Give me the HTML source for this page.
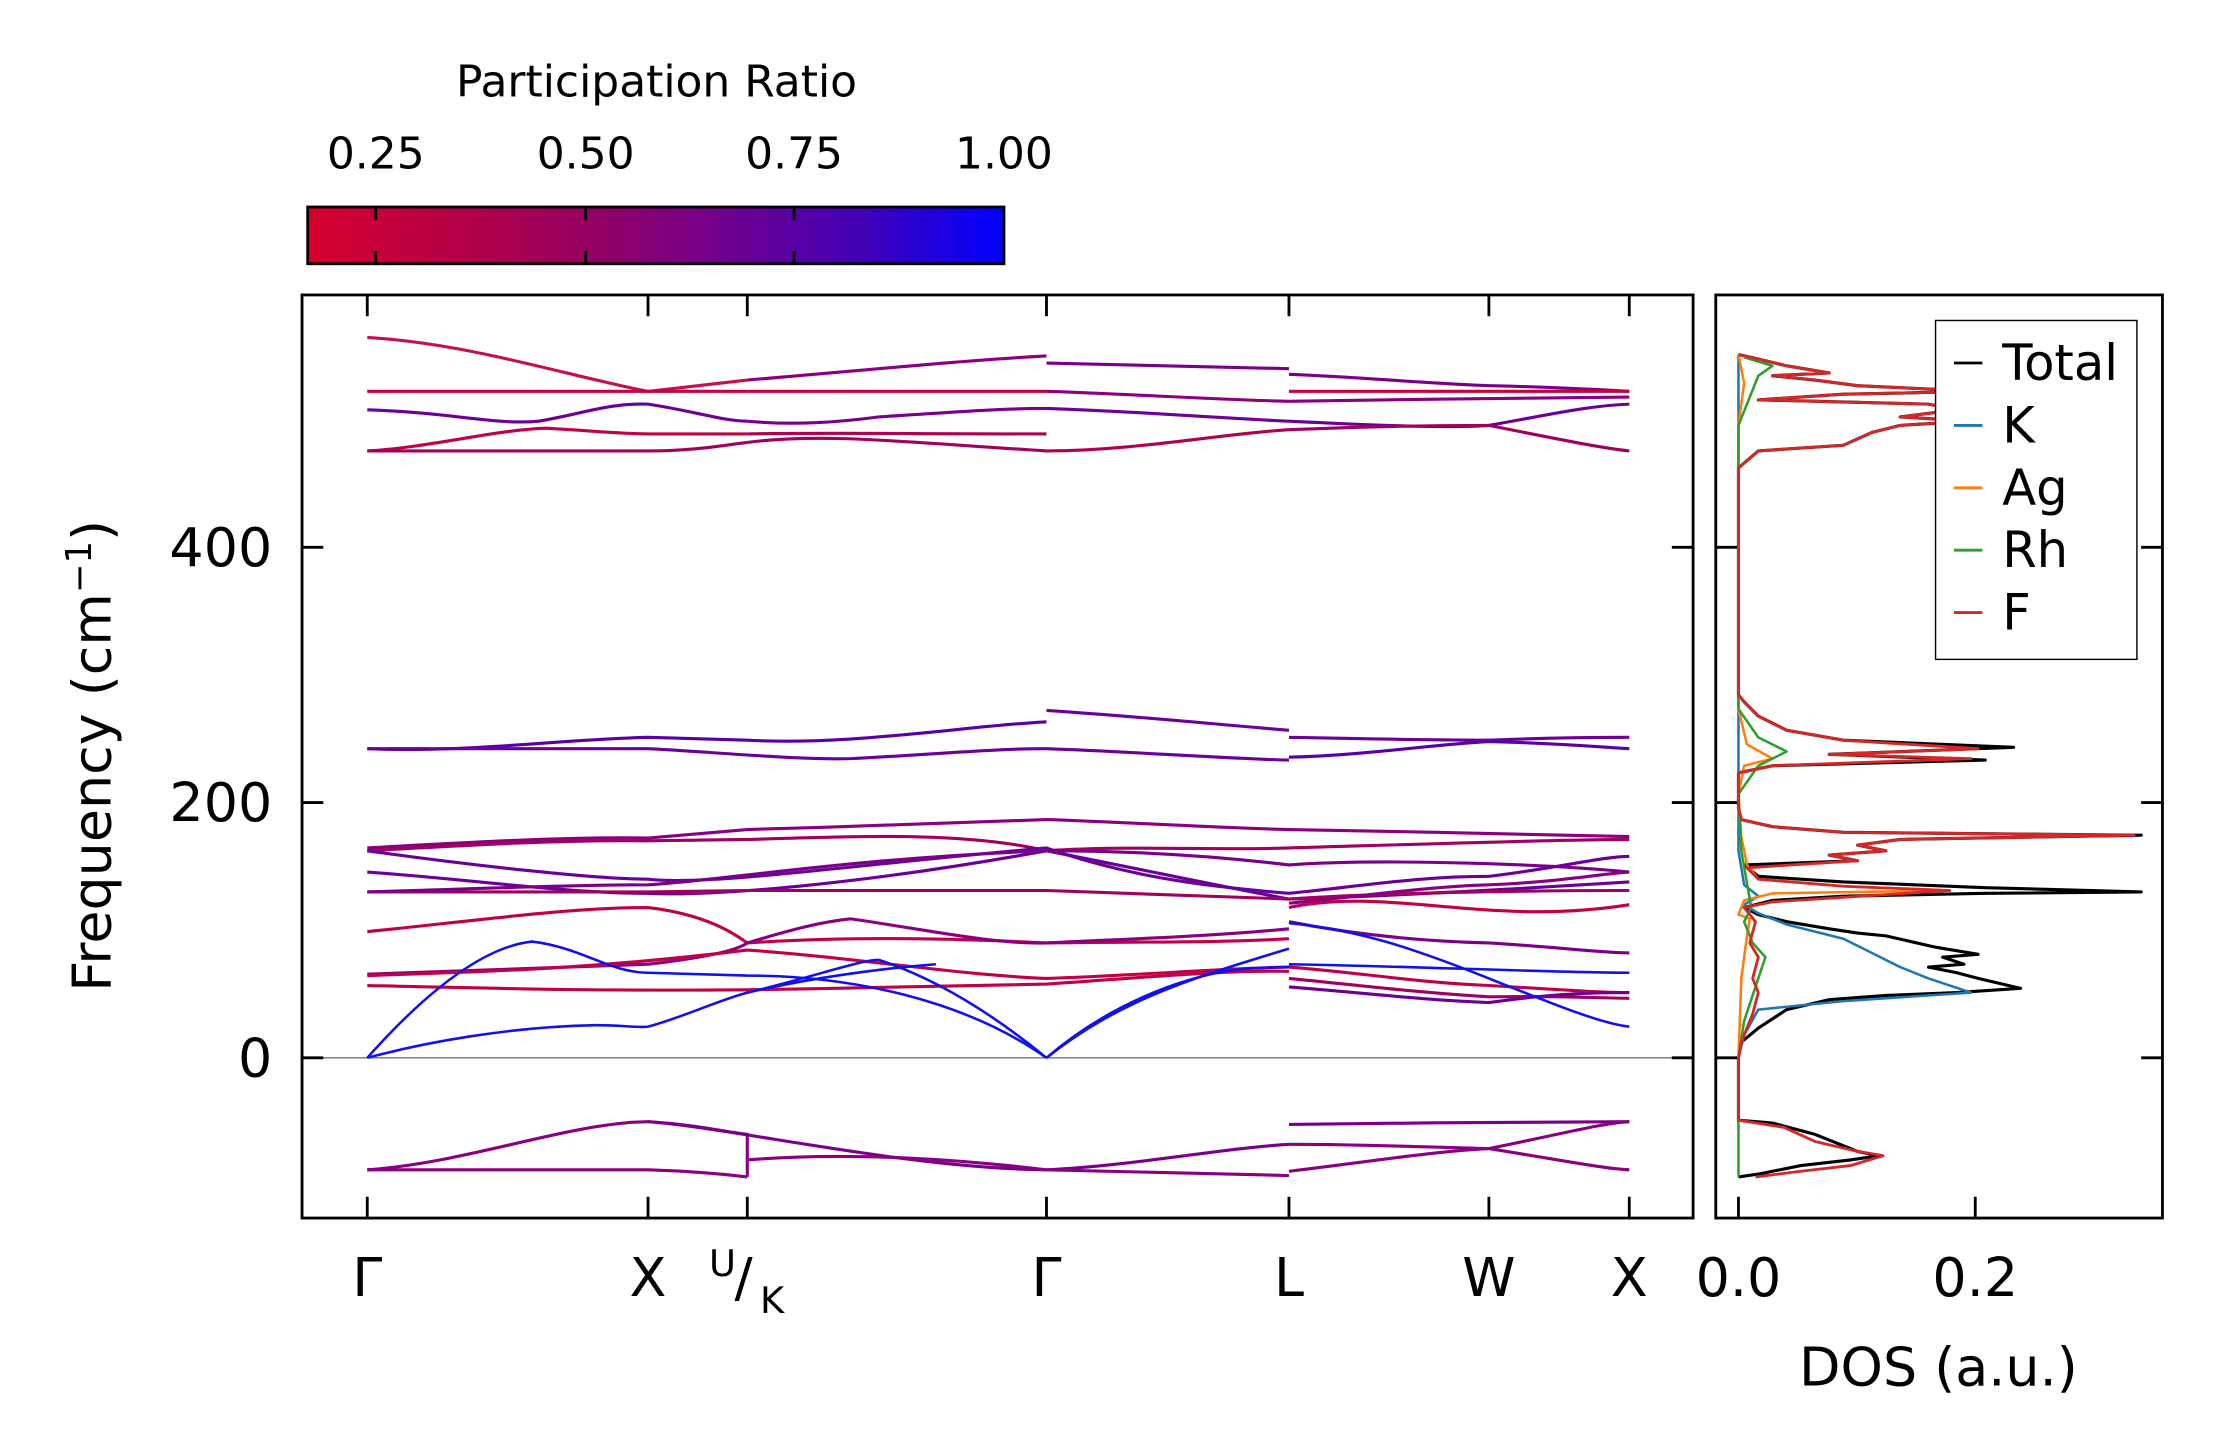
<!DOCTYPE html>
<html><head><meta charset="utf-8"><style>html,body{margin:0;padding:0;background:#fff}svg{display:block}</style></head>
<body>
<svg width="2222" height="1455" viewBox="0 0 1567 1026.1" xmlns="http://www.w3.org/2000/svg" font-family="'DejaVu Sans','Liberation Sans',sans-serif">
<defs>
<linearGradient id="cb" x1="0" x2="1" y1="0" y2="0">
<stop offset="0" stop-color="#d8002c"/><stop offset="0.4" stop-color="#950060"/><stop offset="0.55" stop-color="#7a0085"/><stop offset="0.8" stop-color="#4000b8"/><stop offset="1" stop-color="#0000ff"/>
</linearGradient>
<clipPath id="mc"><rect x="213" y="208" width="981" height="651"/></clipPath>
</defs>
<rect width="1570" height="1030" fill="#fff"/>
<text x="463" y="68" font-size="31" text-anchor="middle">Participation Ratio</text>
<rect x="217" y="146" width="491" height="40" fill="url(#cb)" stroke="#000" stroke-width="2"/>
<g stroke="#000" stroke-width="2"><line x1="265" y1="146" x2="265" y2="155"/><line x1="265" y1="177" x2="265" y2="186"/><line x1="413" y1="146" x2="413" y2="155"/><line x1="413" y1="177" x2="413" y2="186"/><line x1="560" y1="146" x2="560" y2="155"/><line x1="560" y1="177" x2="560" y2="186"/></g>
<g font-size="31" text-anchor="middle"><text x="265" y="119">0.25</text><text x="413" y="119">0.50</text><text x="560" y="119">0.75</text><text x="708" y="119">1.00</text></g>

<g clip-path="url(#mc)" fill="none" stroke-width="2.2">
<line x1="213" y1="746" x2="1194" y2="746" stroke="#888" stroke-width="1.2"/>
<path d="M259,238 C330,242 400,265 457,276 L527,268" stroke="#c4104c"/>
<path d="M259,276 L527,276" stroke="#c8003c"/>
<path d="M259,289 C320,291 350,300 380,297 C410,292 430,284 457,285 C490,290 510,297 527,297" stroke="#6a0098"/>
<path d="M259,318 C300,316 350,303 385,302 C420,304 440,306 457,306 L527,306" stroke="#c00048"/>
<path d="M259,318 L457,318 C490,318 510,314 527,312" stroke="#a0005e"/>
<path d="M527,268 C600,262 680,254 738,251" stroke="#8a0080"/>
<path d="M527,276 L738,276" stroke="#c8003c"/>
<path d="M527,297 C560,300 590,298 620,294 C680,290 710,288 738,288" stroke="#7a008c"/>
<path d="M527,306 C580,305 640,306 738,306" stroke="#b00050"/>
<path d="M527,312 C580,305 640,312 738,318" stroke="#a0005e"/>
<path d="M738,256 L909,260" stroke="#7a008c"/><path d="M738,276 C800,278 860,282 909,283" stroke="#8a0080"/>
<path d="M738,288 C800,290 860,295 909,297" stroke="#6a0098"/><path d="M738,318 C800,318 860,306 909,303" stroke="#b00050"/>
<path d="M909,264 C960,266 1000,270 1050,272 C1100,273 1130,275 1149,276" stroke="#7a008c"/>
<path d="M909,276 L1149,276" stroke="#c8003c"/>
<path d="M909,283 C980,282 1100,280 1149,280" stroke="#8a0080"/>
<path d="M909,297 C970,300 1020,302 1050,300 C1090,293 1120,286 1149,285" stroke="#6a0098"/>
<path d="M909,303 C980,300 1030,300 1050,300 C1100,310 1130,316 1149,318" stroke="#a0005e"/>
<path d="M259,528 C330,531 400,521 457,520 L527,522 C600,526 680,512 738,509" stroke="#5a00a8"/>
<path d="M259,528 L457,528 C500,530 560,536 600,535 C660,532 700,528 738,528" stroke="#6a0098"/>
<path d="M738,501 C800,505 860,511 909,515" stroke="#6a0098"/><path d="M738,528 C800,530 860,535 909,536" stroke="#6a0098"/>
<path d="M909,520 C960,521 1010,522 1050,522 C1100,520 1130,520 1149,520" stroke="#6a0098"/>
<path d="M909,534 C960,533 1010,525 1050,523 C1100,524 1130,527 1149,528" stroke="#5a00a8"/>
<path d="M259,598 C330,594 400,590 457,591 L527,585 C600,583 680,580 738,578 C800,580 860,584 909,585 C980,586 1100,589 1149,590" stroke="#8a0080"/>
<path d="M259,600 C330,596 400,592 457,593 L527,592 C600,590 680,586 738,600 C800,596 860,600 909,598 C980,596 1100,592 1149,592" stroke="#a0005e"/>
<path d="M259,600 C330,610 420,620 457,620 C500,625 600,610 738,598 C800,620 860,626 909,630 C960,625 1000,618 1050,618 C1100,612 1130,604 1149,604" stroke="#6a0098"/>
<path d="M259,615 C330,620 400,630 457,630 C500,632 600,625 738,600 C800,612 860,625 909,634 C980,632 1100,625 1149,622" stroke="#6a0098"/>
<path d="M259,629 C330,629 400,629 457,629 L527,628 C600,628 680,628 738,628 C800,630 860,632 909,634 C980,629 1100,628 1149,628" stroke="#a0005e"/>
<path d="M259,629 C330,627 400,624 457,624 C500,622 600,605 738,600 C800,600 860,604 909,610 C980,605 1100,610 1149,615" stroke="#7a008c"/>
<path d="M259,657 C330,650 400,640 457,640 C500,645 520,660 527,665 C600,660 680,662 738,665 C800,664 860,665 909,662" stroke="#c00048"/>
<path d="M909,637 C960,632 1010,625 1050,624 C1100,622 1130,616 1149,615" stroke="#8a0080"/>
<path d="M909,640 C980,625 1050,654 1149,638" stroke="#c00048"/>
<path d="M259,687 C330,685 400,682 457,680 C500,675 520,670 527,665 C560,655 580,650 600,648 C650,655 700,666 738,665 C800,662 860,660 909,655" stroke="#8a0080"/>
<path d="M259,688 C350,685 420,683 527,670 C600,675 680,688 738,690 C800,688 860,683 909,682" stroke="#c00048"/>
<path d="M259,695 C350,697 420,699 527,698 C600,697 680,695 738,694 C800,690 860,684 909,685" stroke="#c00048"/>
<path d="M909,650 C960,660 1010,664 1050,665 C1100,668 1130,672 1149,672" stroke="#7a008c"/>
<path d="M909,682 C960,686 1000,693 1050,695 C1100,698 1130,700 1149,700" stroke="#c00048"/>
<path d="M909,690 C960,695 1000,700 1050,703 C1100,702 1130,704 1149,704" stroke="#a0005e"/>
<path d="M909,696 C960,700 1000,705 1050,707 C1100,700 1130,700 1149,700" stroke="#6a0098"/>
<g stroke="#1010f0" stroke-width="1.8">
<path d="M259,746 C300,735 360,724 420,723 C440,723 450,725 457,724 C480,718 505,706 527,700 C570,690 610,676 620,677 C660,690 700,715 738,746"/>
<path d="M259,746 C300,700 340,668 375,664 C410,668 430,686 457,686 L527,688 C600,688 680,705 738,746"/>
<path d="M527,700 C570,690 620,683 660,680"/>
<path d="M738,746 C780,710 830,690 870,684 C890,682 900,682 909,682"/>
<path d="M738,746 C790,705 840,690 909,669"/>
<path d="M909,651 C960,656 1000,670 1050,690 C1100,710 1130,722 1149,724"/>
<path d="M909,680 C980,681 1100,686 1149,686"/>
</g>
<path d="M259,825 C330,820 400,792 457,791 C490,793 510,798 527,800 L527,830" stroke="#8a0080"/>
<path d="M259,825 C350,825 420,825 457,825 C490,826 510,828 527,830" stroke="#8a0080"/>
<path d="M457,791 C520,796 640,824 738,825 C800,822 860,810 909,807" stroke="#7a008c"/>
<path d="M527,818 C600,812 680,818 738,825 C800,826 860,828 909,829" stroke="#8a0080"/>
<path d="M909,793 C980,792 1100,791 1149,791" stroke="#7a008c"/>
<path d="M909,807 C960,807 1010,809 1050,810 C1100,800 1130,792 1149,791" stroke="#8a0080"/>
<path d="M909,826 C960,820 1010,812 1050,810 C1100,818 1130,824 1149,825" stroke="#8a0080"/>
</g>
<rect x="213" y="208" width="981" height="651" fill="none" stroke="#000" stroke-width="2"/>
<g stroke="#000" stroke-width="2">
<line x1="213" y1="746" x2="228" y2="746"/><line x1="213" y1="566" x2="228" y2="566"/><line x1="213" y1="386" x2="228" y2="386"/>
<line x1="1194" y1="746" x2="1179" y2="746"/><line x1="1194" y1="566" x2="1179" y2="566"/><line x1="1194" y1="386" x2="1179" y2="386"/>
<line x1="259" y1="208" x2="259" y2="223"/><line x1="457" y1="208" x2="457" y2="223"/><line x1="527" y1="208" x2="527" y2="223"/><line x1="738" y1="208" x2="738" y2="223"/><line x1="909" y1="208" x2="909" y2="223"/><line x1="1050" y1="208" x2="1050" y2="223"/><line x1="1149" y1="208" x2="1149" y2="223"/>
<line x1="259" y1="859" x2="259" y2="844"/><line x1="457" y1="859" x2="457" y2="844"/><line x1="527" y1="859" x2="527" y2="844"/><line x1="738" y1="859" x2="738" y2="844"/><line x1="909" y1="859" x2="909" y2="844"/><line x1="1050" y1="859" x2="1050" y2="844"/><line x1="1149" y1="859" x2="1149" y2="844"/>
</g>
<g font-size="38" text-anchor="end"><text x="192" y="759">0</text><text x="192" y="579">200</text><text x="192" y="399">400</text></g>
<g font-size="38" text-anchor="middle"><text x="259" y="914">Γ</text><text x="457" y="914">X</text><text x="738" y="914">Γ</text><text x="909" y="914">L</text><text x="1050" y="914">W</text><text x="1149" y="914">X</text></g>
<text x="500" y="900" font-size="26">U</text><text x="518" y="914" font-size="38">/</text><text x="536" y="926" font-size="26">K</text>
<text transform="translate(78,533) rotate(-90)" font-size="38" text-anchor="middle">Frequency (cm<tspan font-size="25" dy="-14">−1</tspan><tspan dy="14">)</tspan></text>

<g fill="none" stroke-linejoin="round">
<polyline stroke="#000" stroke-width="2.2" points="1226,830 1240,828 1270,822 1305,818 1325,815 1310,812 1280,800 1250,792 1226,790 1226,746 1228,735 1240,725 1260,712 1290,705 1330,702 1380,700 1425,697 1395,690 1380,686 1360,682 1385,680 1370,675 1395,673 1365,668 1330,660 1310,658 1290,655 1260,650 1240,645 1230,640 1250,635 1300,632 1400,630 1510,629 1400,626 1300,622 1240,618 1230,610 1310,607 1290,603 1330,600 1310,596 1340,592 1510,589 1300,587 1250,583 1228,578 1226,570 1226,545 1250,540 1400,536 1290,532 1420,527 1300,522 1260,515 1240,505 1230,495 1226,490 1226,330 1240,318 1300,314 1320,305 1340,300 1390,297 1340,294 1380,289 1360,285 1240,282 1300,278 1395,276 1310,272 1280,268 1250,265 1290,263 1260,258 1235,252 1226,250"/>
<polyline stroke="#1f77b4" stroke-width="1.8" points="1226,746 1230,730 1240,712 1300,706 1390,700 1360,690 1340,682 1320,672 1300,662 1260,652 1240,644 1230,638 1240,632 1230,624 1226,600 1226,560 1226,250"/>
<polyline stroke="#ff7f0e" stroke-width="1.8" points="1226,746 1228,690 1232,660 1234,648 1226,645 1230,635 1250,630 1375,628 1300,625 1240,620 1232,610 1228,590 1226,560 1230,540 1250,535 1232,525 1226,500 1226,300 1230,270 1226,250"/>
<polyline stroke="#2ca02c" stroke-width="1.8" points="1226,830 1226,746 1230,720 1235,705 1240,690 1245,675 1236,665 1230,650 1235,640 1228,600 1226,560 1240,540 1260,530 1240,520 1226,500 1226,300 1240,265 1250,258 1230,252"/>
<polyline stroke="#d62728" stroke-width="2" points="1238,830 1270,826 1305,822 1328,815 1310,812 1280,805 1258,795 1226,790 1226,746 1228,735 1232,725 1236,715 1240,700 1236,690 1240,675 1234,665 1238,650 1230,640 1250,636 1375,628 1300,625 1240,620 1232,612 1310,607 1290,603 1330,600 1310,596 1340,592 1505,589 1300,587 1250,583 1228,578 1226,570 1226,545 1250,540 1390,535 1290,532 1395,528 1300,522 1260,515 1240,505 1230,495 1226,490 1226,330 1240,318 1300,314 1320,305 1340,300 1390,297 1340,294 1380,289 1360,285 1240,282 1300,278 1395,276 1310,272 1280,268 1250,265 1290,263 1260,258 1235,252 1226,250"/>
</g>
<rect x="1210" y="208" width="315" height="651" fill="none" stroke="#000" stroke-width="2"/>
<g stroke="#000" stroke-width="2">
<line x1="1210" y1="746" x2="1225" y2="746"/><line x1="1210" y1="566" x2="1225" y2="566"/><line x1="1210" y1="386" x2="1225" y2="386"/>
<line x1="1525" y1="746" x2="1510" y2="746"/><line x1="1525" y1="566" x2="1510" y2="566"/><line x1="1525" y1="386" x2="1510" y2="386"/>
<line x1="1226" y1="859" x2="1226" y2="844"/><line x1="1393" y1="859" x2="1393" y2="844"/>
</g>
<g font-size="38" text-anchor="middle"><text x="1226" y="914">0.0</text><text x="1393" y="914">0.2</text><text x="1367" y="977">DOS (a.u.)</text></g>
<rect x="1365" y="226" width="142" height="239" fill="#fff" stroke="#000" stroke-width="1"/>
<g stroke-width="2"><line x1="1378" y1="256" x2="1398" y2="256" stroke="#000"/><line x1="1378" y1="300" x2="1398" y2="300" stroke="#1f77b4"/><line x1="1378" y1="344" x2="1398" y2="344" stroke="#ff7f0e"/><line x1="1378" y1="388" x2="1398" y2="388" stroke="#2ca02c"/><line x1="1378" y1="432" x2="1398" y2="432" stroke="#d62728"/></g>
<g font-size="35"><text x="1412" y="268">Total</text><text x="1412" y="312">K</text><text x="1412" y="356">Ag</text><text x="1412" y="400">Rh</text><text x="1412" y="444">F</text></g>
</svg>
</body></html>
